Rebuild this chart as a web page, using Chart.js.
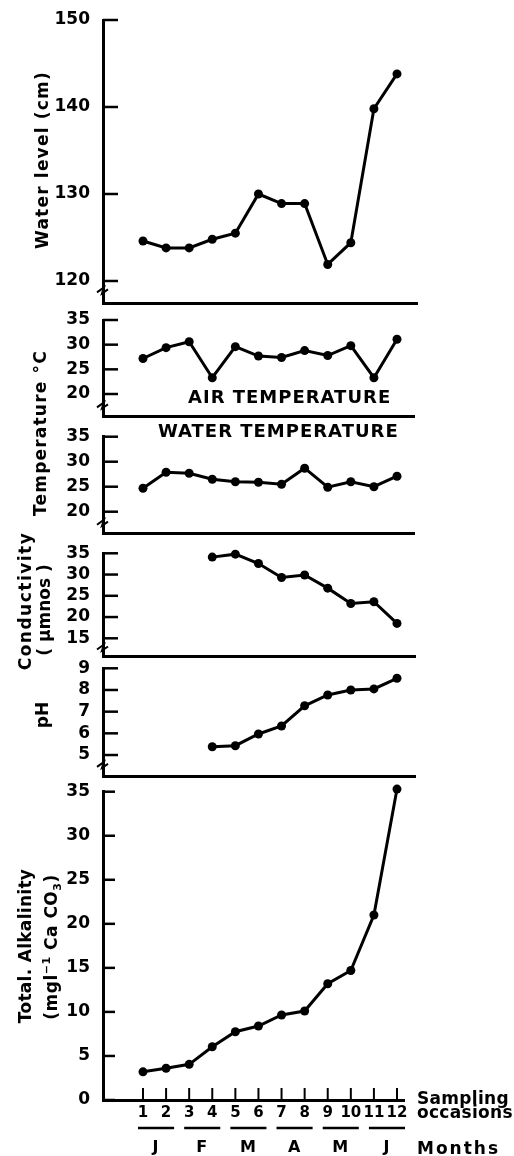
<!DOCTYPE html>
<html><head><meta charset="utf-8">
<script src="https://cdn.jsdelivr.net/npm/chart.js@4/dist/chart.umd.min.js"></script>
<style>
html,body{margin:0;padding:0;background:#fff;}
#wrap{position:relative;width:514px;height:1156px;overflow:hidden;background:#fff;font-family:"DejaVu Sans",sans-serif;font-weight:bold;color:#000;}
canvas{position:absolute;left:0;}
.t{position:absolute;white-space:nowrap;line-height:1;transform:translateY(-50%);}
.rot{position:absolute;white-space:nowrap;line-height:1;transform:translate(-50%,-50%) rotate(-90deg);font-size:17px;}
sup,sub{font-size:11px;line-height:0;}
</style></head><body>
<div id="wrap">
<canvas id="c1"></canvas><canvas id="c2"></canvas><canvas id="c3"></canvas>
<canvas id="c4"></canvas><canvas id="c5"></canvas><canvas id="c6"></canvas>
<div class="rot" style="left:42px;top:160px;letter-spacing:1.2px;">Water level (cm)</div>
<div class="rot" style="left:40px;top:433px;letter-spacing:1.2px;">Temperature °C</div>
<div class="rot" style="left:25px;top:601px;letter-spacing:1.5px;">Conductivity</div>
<div class="rot" style="left:44px;top:610px;">( µmnos )</div>
<div class="rot" style="left:42px;top:715px;">pH</div>
<div class="rot" style="left:25px;top:946px;letter-spacing:0.3px;">Total. Alkalinity</div>
<div class="rot" style="left:51px;top:947px;letter-spacing:0.5px;">(mgl<sup>−1</sup> Ca CO<sub>3</sub>)</div>
<div class="t" style="left:188px;top:397px;font-size:18px;letter-spacing:1px;">AIR TEMPERATURE</div>
<div class="t" style="left:158px;top:431px;font-size:18px;letter-spacing:1px;">WATER TEMPERATURE</div>
<div class="t" style="left:417px;top:1098px;font-size:17px;letter-spacing:0.3px;">Sampling</div>
<div class="t" style="left:417px;top:1112px;font-size:17px;letter-spacing:0.3px;">occasions</div>
<div class="t" style="left:417px;top:1148px;font-size:17px;letter-spacing:2px;">Months</div>
</div>
<script>
const occasions = [1,2,3,4,5,6,7,8,9,10,11,12];
const months = ['J','F','M','A','M','J'];
const monthPairs = [[1,2],[3,4],[5,6],[7,8],[9,10],[11,12]];

const waterLevel   = [124.6,123.8,123.8,124.8,125.5,130.0,128.9,128.9,121.9,124.4,139.8,143.8];
const airTemp      = [27.2,29.4,30.6,23.3,29.6,27.7,27.4,28.8,27.8,29.8,23.3,31.1];
const waterTemp    = [24.7,27.9,27.7,26.5,26.0,25.9,25.5,28.7,24.9,26.0,25.0,27.1];
const conductivity = [null,null,null,34.1,34.8,32.6,29.3,29.9,26.8,23.2,23.6,18.5];
const pH           = [null,null,null,5.38,5.43,5.97,6.34,7.27,7.77,8.0,8.05,8.54];
const alkalinity   = [3.2,3.6,4.05,6.05,7.75,8.4,9.65,10.1,13.2,14.7,21.0,35.3];

const waterLevelTicks   = [120,130,140,150];
const temperatureTicks  = [20,25,30,35];
const conductivityTicks = [15,20,25,30,35];
const pHTicks           = [5,6,7,8,9];
const alkalinityTicks   = [0,5,10,15,20,25,30,35];

const X_MIN = -0.732;
const FONT = {family:'DejaVu Sans', weight:'bold', size:17};

const decor = {
  id:'decor',
  afterDraw(chart, args, opts){
    const ctx = chart.ctx, ys = chart.scales.y, xs = chart.scales.x;
    const L = chart.chartArea.left, B = chart.chartArea.bottom;
    ctx.save();
    ctx.strokeStyle = '#000'; ctx.fillStyle = '#000'; ctx.lineWidth = 2.5;
    ys.ticks.forEach(t => {
      const py = ys.getPixelForValue(t.value);
      ctx.beginPath(); ctx.moveTo(L, py); ctx.lineTo(L + opts.tickLen, py); ctx.stroke();
    });
    if (opts.breakAt != null) {
      const pb = ys.getPixelForValue(opts.breakAt);
      ctx.lineWidth = 2;
      ctx.beginPath(); ctx.moveTo(L - 6, pb + 1); ctx.lineTo(L + 1, pb - 4); ctx.lineTo(L - 1, pb + 2); ctx.lineTo(L + 5, pb - 2); ctx.stroke();
    }
    if (opts.xMarks) {
      ctx.lineWidth = 2;
      occasions.forEach(v => {
        const px = xs.getPixelForValue(v);
        ctx.beginPath(); ctx.moveTo(px, B); ctx.lineTo(px, B - 12); ctx.stroke();
      });
      ctx.lineWidth = 2.5;
      ctx.font = 'bold 16px "DejaVu Sans"';
      ctx.textAlign = 'center'; ctx.textBaseline = 'middle';
      monthPairs.forEach((p, i) => {
        const a = xs.getPixelForValue(p[0]), b = xs.getPixelForValue(p[1]);
        ctx.beginPath(); ctx.moveTo(a - 5, B + 28); ctx.lineTo(b + 8, B + 28); ctx.stroke();
        ctx.fillText(months[i], (a + b) / 2 + 1, B + 48);
      });
    }
    ctx.restore();
  }
};

function makePanel(id, cfg){
  const canvas = document.getElementById(id);
  const canvasTop = Math.floor(cfg.top - 26);
  const canvasBottom = cfg.canvasBottom || Math.ceil(cfg.bottom + 26);
  const canvasHeight = canvasBottom - canvasTop;
  canvas.width = 514; canvas.height = canvasHeight;
  canvas.style.top = canvasTop + 'px';
  const xAxisH = cfg.xLabels ? 24 : 0;
  const padTop = cfg.top - canvasTop;
  const padBottom = canvasHeight - (cfg.bottom - canvasTop) - xAxisH;
  const pts = occasions.map((o, i) => ({x:o, y:cfg.values[i]})).filter(p => p.y != null);
  new Chart(canvas, {
    type:'line',
    data:{datasets:[{data:pts, borderColor:'#000', borderWidth:3, pointRadius:4.5,
      pointBackgroundColor:'#000', pointBorderColor:'#000', pointBorderWidth:0,
      tension:0, fill:false, clip:false}]},
    options:{
      responsive:false, animation:false, devicePixelRatio:1,
      layout:{padding:{top:padTop, bottom:padBottom, left:0, right:514 - cfg.right}},
      plugins:{legend:{display:false}, tooltip:{enabled:false},
        decor:{tickLen:cfg.tickLen || 15, breakAt:cfg.breakAt, xMarks:!!cfg.xLabels}},
      scales:{
        x:{type:'linear', min:X_MIN, max:cfg.xMax,
          grid:{display:false, drawTicks:false},
          border:{display:true, color:'#000', width:3},
          ticks:{display:!!cfg.xLabels, autoSkip:false, maxRotation:0, padding:4, font:{family:'DejaVu Sans', weight:'bold', size:15}, color:'#000'},
          afterBuildTicks:s => { s.ticks = occasions.map(v => ({value:v})); },
          afterFit:s => { s.height = xAxisH; }},
        y:{type:'linear', min:cfg.min, max:cfg.max,
          grid:{display:false, drawTicks:false},
          border:{display:true, color:'#000', width:3},
          ticks:{font:FONT, color:'#000', padding:13},
          afterBuildTicks:s => { s.ticks = cfg.ticks.map(v => ({value:v})); },
          afterFit:s => { s.width = 103; }}
      }
    },
    plugins:[decor]
  });
}

makePanel('c1', {top:20, bottom:303, min:117.47, max:150,
  ticks:waterLevelTicks, values:waterLevel, right:417, xMax:12.866, breakAt:118.8});
makePanel('c2', {top:320, bottom:416.7, min:15.4, max:35,
  ticks:temperatureTicks, values:airTemp, right:414, xMax:12.736, breakAt:17.5});
makePanel('c3', {top:436.7, bottom:533.3, min:15.68, max:35,
  ticks:temperatureTicks, values:waterTemp, right:414, xMax:12.736, breakAt:17.6});
makePanel('c4', {top:553.3, bottom:656.7, min:10.67, max:35,
  ticks:conductivityTicks, values:conductivity, right:415, xMax:12.78, breakAt:12.6});
makePanel('c5', {top:668.3, bottom:776.7, min:4.0, max:9,
  ticks:pHTicks, values:pH, right:415, xMax:12.78, breakAt:4.5});
makePanel('c6', {top:791.7, bottom:1100, min:0, max:35, canvasBottom:1156,
  ticks:alkalinityTicks, values:alkalinity, right:404, xMax:12.303, xLabels:true, tickLen:12});
</script>
</body></html>
